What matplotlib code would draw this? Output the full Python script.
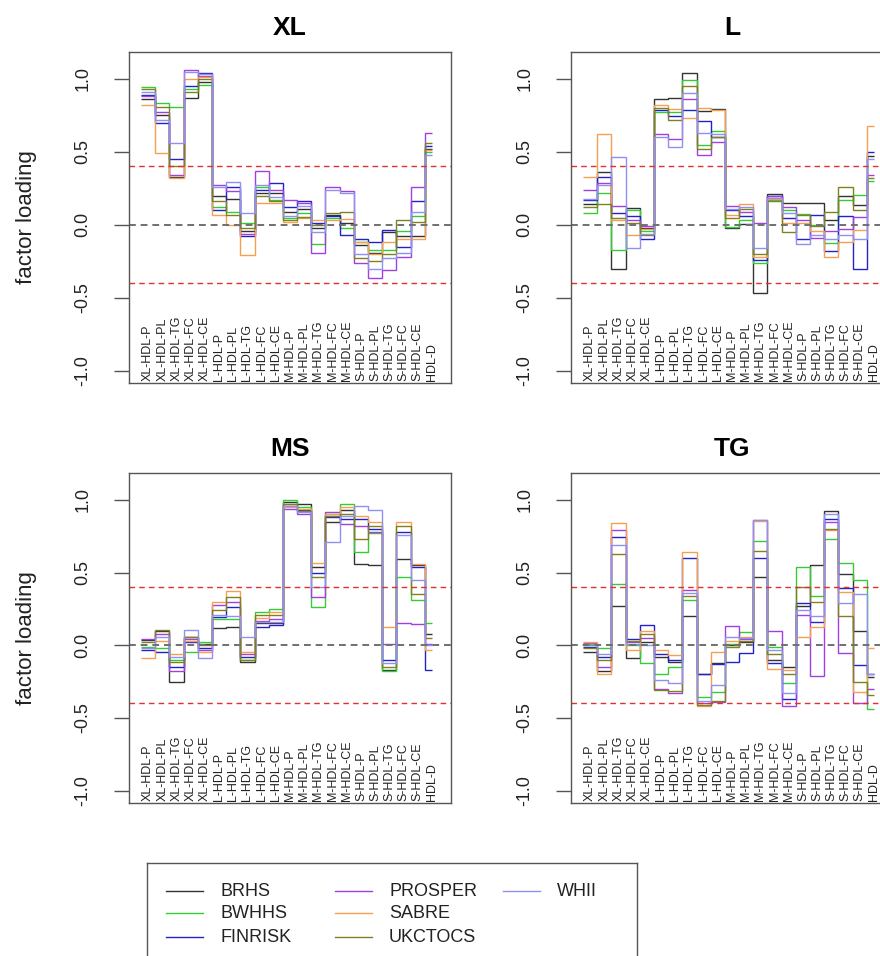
import numpy as np
import matplotlib
matplotlib.use("Agg")
import matplotlib.pyplot as plt

plt.rcParams['font.family'] = ['Liberation Sans', 'DejaVu Sans']

variables = ["XL-HDL-P", "XL-HDL-PL", "XL-HDL-TG", "XL-HDL-FC", "XL-HDL-CE",
             "L-HDL-P", "L-HDL-PL", "L-HDL-TG", "L-HDL-FC", "L-HDL-CE",
             "M-HDL-P", "M-HDL-PL", "M-HDL-TG", "M-HDL-FC", "M-HDL-CE",
             "S-HDL-P", "S-HDL-PL", "S-HDL-TG", "S-HDL-FC", "S-HDL-CE",
             "HDL-D"]
cohorts = ["BRHS", "BWHHS", "FINRISK", "PROSPER", "SABRE", "UKCTOCS", "WHII"]
cohort_colors = ["#333333", "#33cc33", "#2222c8", "#a040e0", "#f5a050", "#808020", "#9090f0"]

# factor loadings, one row per cohort (same order as cohorts)
xl_loadings = [
    [0.86, 0.75, 0.33, 0.87, 0.98, 0.195, 0.18, -0.045, 0.22, 0.22, 0.09, 0.11, -0.02, 0.07, 0.01, -0.14, -0.195, -0.05, -0.08, -0.08, 0.52],
    [0.945, 0.835, 0.81, 0.93, 0.96, 0.125, 0.085, 0.01, 0.26, 0.17, 0.045, 0.08, -0.13, 0.045, -0.02, -0.12, -0.17, -0.17, -0.045, 0.057, 0.50],
    [0.89, 0.70, 0.45, 0.95, 1.04, 0.10, 0.26, -0.08, 0.24, 0.285, 0.125, 0.16, 0.01, 0.06, -0.07, -0.10, -0.115, -0.035, -0.15, 0.16, 0.54],
    [0.88, 0.77, 0.34, 1.06, 1.02, 0.275, 0.23, -0.06, 0.366, 0.24, 0.17, 0.15, -0.19, 0.26, 0.23, -0.26, -0.366, -0.31, -0.22, 0.26, 0.63],
    [0.82, 0.49, 0.32, 1.0, 1.01, 0.07, 0.0, -0.21, 0.15, 0.15, 0.02, 0.045, 0.035, 0.035, 0.04, -0.115, -0.2, -0.115, -0.1, -0.1, 0.51],
    [0.93, 0.81, 0.40, 0.91, 1.0, 0.16, 0.07, -0.02, 0.20, 0.16, 0.035, 0.055, 0.0, 0.08, 0.085, -0.23, -0.25, -0.2, 0.035, 0.02, 0.56],
    [0.91, 0.72, 0.56, 1.05, 1.03, 0.26, 0.29, 0.08, 0.275, 0.19, 0.06, 0.13, -0.05, 0.24, 0.22, -0.2, -0.3, -0.23, -0.195, 0.09, 0.48],
]
l_loadings = [
    [0.145, 0.36, -0.305, 0.115, -0.02, 0.863, 0.87, 1.037, 0.78, 0.795, -0.02, 0.007, -0.465, 0.21, 0.15, 0.15, 0.15, 0.035, 0.2, 0.137, 0.47],
    [0.08, 0.22, -0.175, 0.10, -0.045, 0.77, 0.77, 0.99, 0.55, 0.64, -0.015, 0.03, -0.26, 0.17, 0.10, 0.075, 0.0, -0.125, 0.17, 0.205, 0.3],
    [0.17, 0.33, 0.08, 0.06, -0.1, 0.79, 0.745, 0.79, 0.71, 0.605, 0.10, 0.057, -0.24, 0.195, 0.045, -0.1, 0.07, -0.18, 0.057, -0.3, 0.5],
    [0.24, 0.285, 0.13, 0.035, -0.01, 0.62, 0.585, 0.86, 0.48, 0.57, 0.13, 0.09, 0.01, 0.2, 0.12, 0.03, -0.09, -0.045, -0.03, 0.05, 0.34],
    [0.33, 0.625, 0.035, -0.07, -0.03, 0.82, 0.795, 0.73, 0.8, 0.79, 0.07, 0.145, -0.22, 0.175, 0.01, 0.01, -0.045, -0.22, -0.115, -0.035, 0.675],
    [0.125, 0.145, 0.045, 0.01, -0.07, 0.80, 0.72, 0.95, 0.52, 0.6, 0.045, 0.11, -0.2, 0.16, -0.05, 0.07, -0.01, 0.09, 0.26, 0.1, 0.32],
    [0.18, 0.275, 0.465, -0.16, -0.06, 0.6, 0.535, 0.9, 0.63, 0.62, 0.11, 0.125, -0.16, 0.185, 0.08, -0.135, -0.07, -0.1, -0.07, -0.1, 0.45],
]
ms_loadings = [
    [0.035, 0.1, -0.25, 0.057, 0.01, 0.12, 0.125, -0.115, 0.15, 0.15, 0.985, 0.97, 0.54, 0.847, 0.93, 0.56, 0.55, -0.17, 0.595, 0.55, 0.08],
    [-0.01, -0.02, -0.1, -0.045, 0.02, 0.18, 0.18, -0.1, 0.23, 0.25, 1.0, 0.95, 0.263, 0.9, 0.97, 0.64, 0.77, -0.18, 0.47, 0.31, 0.15],
    [-0.035, -0.045, -0.15, 0.02, -0.02, 0.195, 0.26, -0.08, 0.125, 0.137, 0.96, 0.93, 0.5, 0.88, 0.87, 0.87, 0.80, -0.1, 0.78, 0.54, -0.167],
    [0.045, 0.08, -0.18, 0.045, -0.03, 0.275, 0.3, -0.057, 0.17, 0.18, 0.94, 0.905, 0.33, 0.915, 0.835, 0.82, 0.78, 0.01, 0.15, 0.144, 0.01],
    [-0.09, 0.03, -0.057, 0.03, -0.045, 0.3, 0.373, -0.045, 0.19, 0.23, 0.95, 0.94, 0.565, 0.905, 0.95, 0.89, 0.85, 0.125, 0.85, 0.56, -0.035],
    [0.02, 0.107, -0.115, 0.06, 0.0, 0.24, 0.33, -0.1, 0.205, 0.205, 0.97, 0.92, 0.47, 0.89, 0.905, 0.73, 0.82, -0.15, 0.82, 0.355, 0.05],
    [-0.02, 0.06, -0.08, 0.107, -0.09, 0.21, 0.2, 0.06, 0.16, 0.16, 0.955, 0.915, 0.4, 0.71, 0.89, 0.96, 0.93, -0.12, 0.755, 0.446, 0.0],
]
tg_loadings = [
    [-0.045, -0.18, 0.27, -0.09, 0.02, -0.08, -0.115, 0.2, -0.195, -0.125, 0.0, 0.02, 0.47, -0.1, -0.15, 0.27, 0.55, 0.92, 0.487, 0.10, -0.22],
    [0.0, -0.02, 0.42, 0.0, -0.125, -0.195, -0.15, 0.31, -0.355, -0.32, 0.01, 0.09, 0.716, -0.01, -0.26, 0.54, 0.336, 0.73, 0.565, 0.446, -0.435],
    [-0.01, -0.08, 0.745, 0.04, 0.137, -0.06, -0.1, 0.6, -0.2, -0.13, -0.115, -0.05, 0.6, -0.12, -0.366, 0.29, 0.16, 0.87, 0.395, -0.137, -0.195],
    [0.016, -0.15, 0.79, 0.02, 0.05, -0.3, -0.33, 0.378, -0.4, -0.39, 0.13, 0.04, 0.863, 0.1, -0.42, 0.205, -0.21, 0.85, -0.05, -0.40, -0.3],
    [0.02, -0.195, 0.84, -0.03, 0.1, -0.035, -0.07, 0.64, -0.42, -0.045, 0.03, 0.06, 0.855, -0.16, -0.17, 0.057, 0.125, 0.79, 0.366, -0.32, -0.02],
    [-0.02, -0.1, 0.63, 0.03, 0.08, -0.31, -0.315, 0.34, -0.41, -0.38, -0.01, 0.03, 0.65, -0.057, -0.2, 0.4, 0.3, 0.8, 0.2, -0.25, -0.34],
    [0.01, -0.06, 0.69, 0.01, 0.0, -0.24, -0.26, 0.36, -0.38, -0.275, 0.057, 0.05, 0.86, -0.03, -0.33, 0.24, 0.2, 0.9, 0.29, 0.355, -0.2],
]

panels = [("XL", xl_loadings), ("L", l_loadings), ("MS", ms_loadings), ("TG", tg_loadings)]

W, H = 880, 956
fig = plt.figure(figsize=(W / 100, H / 100), dpi=100)

# axes boxes in pixels: left, top, width, height
boxes = [(129, 52, 322, 331), (571, 52, 322, 331),
         (129, 473, 322, 330), (571, 473, 322, 330)]

n = len(variables)
xpos = np.arange(1, n + 1)
edges = np.append(xpos - 0.5, n)  # last step only reaches the last position

for (title, data), (bx, by, bw, bh) in zip(panels, boxes):
    ax = fig.add_axes([bx / W, 1 - (by + bh) / H, bw / W, bh / H])
    ax.axhline(0.4, color="#e03030", lw=1, ls=(0, (4, 3)))
    ax.axhline(-0.4, color="#e03030", lw=1, ls=(0, (4, 3)))
    ax.axhline(0.0, color="#707070", lw=1.4, ls=(0, (3.5, 2.5)))
    for vals, col in zip(data, cohort_colors):
        ax.stairs(vals, edges, baseline=None, color=col, lw=1.0)
    for x, name in zip(xpos, variables):
        ax.text(x, -1.07, name, rotation=90, ha="center", va="bottom",
                fontsize=9, color="#222222")
    ax.set_xlim(-0.34, 22.34)
    ax.set_ylim(-1.084, 1.184)
    ax.set_xticks([])
    ax.set_yticks([-1.0, -0.5, 0.0, 0.5, 1.0])
    ax.set_yticklabels(["-1.0", "-0.5", "0.0", "0.5", "1.0"], rotation=90,
                       va="center", fontsize=13, color="#222222")
    ax.tick_params(axis="y", length=11, pad=16, color="#555555", width=1)
    for s in ax.spines.values():
        s.set_color("#555555")
        s.set_linewidth(1)
    ax.set_title(title, fontsize=19, fontweight="bold", pad=12)
    if bx < 300:
        ax.text(-0.317, 0.5, "factor loading", transform=ax.transAxes,
                rotation=90, ha="center", va="center", fontsize=16, color="#222222")

# legend box at the bottom (cut off by the figure edge like the original)
lw_, lh_ = 490, 110
lax = fig.add_axes([147 / W, 1 - (863 + lh_) / H, lw_ / W, lh_ / H])
lax.set_xlim(0, lw_)
lax.set_ylim(lh_, 0)
lax.set_xticks([])
lax.set_yticks([])
for s in lax.spines.values():
    s.set_color("#555555")
    s.set_linewidth(1)
col_x = [19, 188, 356]
row_y = [28, 50, 74]
for i, (name, col) in enumerate(zip(cohorts, cohort_colors)):
    c, r = divmod(i, 3)
    x0 = col_x[c]
    lax.plot([x0, x0 + 37], [row_y[r], row_y[r]], color=col, lw=1.0)
    lax.text(x0 + 54, row_y[r], name, ha="left", va="center", fontsize=13, color="#222222")

fig.savefig("out.png", dpi=100)
